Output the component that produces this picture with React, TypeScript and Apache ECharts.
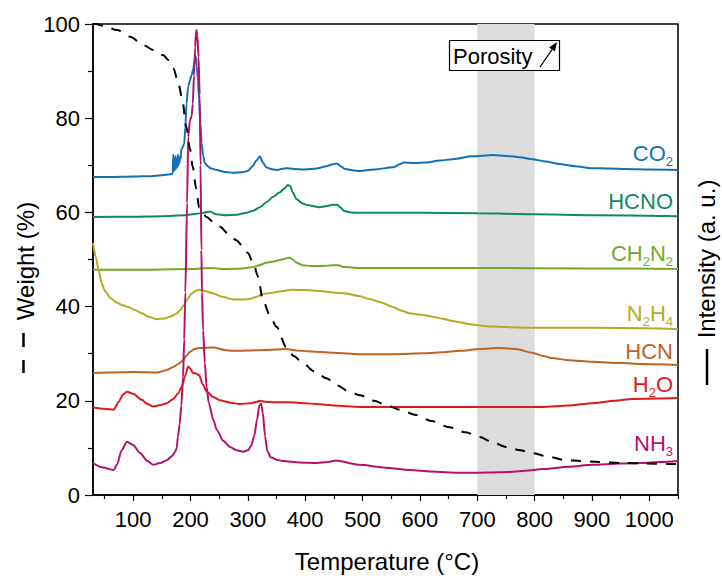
import React, { useEffect, useRef } from "react";
import * as echarts from "echarts";

// Temperature (°C) ticks
const xMajorTicks = [100, 200, 300, 400, 500, 600, 700, 800, 900, 1000];
const xMinorTicks = [50, 150, 250, 350, 450, 550, 650, 750, 850, 950, 1050];
const porosityBand = [700, 800];

// TGA weight (%)
const weight: [number, number][] = [
  [30, 100], [34, 100], [50, 99.6], [72, 98.7], [95, 97.3], [118, 95.5], [135, 94.5], [152, 93.4],
  [162, 92.3], [170, 90.6], [178, 88], [185, 84.5], [193, 78], [199, 73.5], [204, 69.6], [210, 65],
  [215, 61], [222, 59.8], [228, 59], [240, 58], [251, 57], [265, 55.6], [280, 54.1], [290, 53],
  [300, 51.4], [310, 49], [318, 46.3], [326, 41.4], [338, 38.3], [350, 35.7], [367, 31.4],
  [380, 29.5], [396, 28], [415, 26.3], [437, 24.8], [455, 23.3], [477, 21.9], [495, 21.2],
  [520, 20], [541, 19.1], [565, 18.1], [593, 17], [620, 15.7], [651, 14.4], [680, 13.3],
  [704, 12.3], [725, 11.3], [750, 10.2], [775, 9.5], [796, 8.9], [825, 8.1], [854, 7.4],
  [880, 7.2], [912, 7.0], [950, 6.8], [990, 6.7], [1034, 6.6], [1050, 6.6],
];

// MS intensities (a. u., offset traces)
const co2: [number, number][] = [
  [30, 67.5], [60, 67.5], [100, 67.6], [130, 67.7], [150, 67.9], [165, 68.1], [169, 68.2],
  [170, 72.3], [171, 68.8], [172, 71.5], [173, 69], [174, 72], [175, 69.3], [176, 71], [177, 69.6],
  [178, 72.3], [179, 70], [180, 71.4], [181, 70.6], [182, 72], [183, 71.4], [184, 73.3],
  [186, 73.8], [189, 74.5], [191, 78], [193, 83], [196, 86.8], [199, 88], [202, 89.2], [205, 90.5],
  [207, 92], [209, 93.2], [211, 91], [213, 88], [215, 84], [217, 79], [219.5, 74.7], [222, 72],
  [225, 70.5], [230, 69.8], [235, 69.4], [246, 69], [260, 68.6], [274, 68.4], [290, 68.5],
  [300, 68.8], [308, 69.8], [315, 71], [321, 71.9], [326, 70.6], [332, 69.6], [340, 69.2],
  [350, 69], [367, 69.4], [380, 69.2], [400, 69.1], [420, 69.3], [437, 69.8], [448, 70.2],
  [455, 70.4], [462, 69.8], [470, 69.2], [485, 68.9], [495, 68.8], [520, 69.1], [553, 69.6],
  [565, 70.2], [572, 70.6], [590, 70.5], [611, 70.6], [635, 71], [657, 71.3], [692, 71.9],
  [727, 72.2], [750, 72], [775, 71.7], [796, 71.3], [820, 70.8], [843, 70.3], [870, 69.8],
  [900, 69.4], [930, 69.3], [959, 69.2], [1000, 69.1], [1050, 69],
];
const hcno: [number, number][] = [
  [30, 59], [100, 59.1], [150, 59.2], [190, 59.4], [210, 59.7], [225, 60], [234, 60.2], [245, 59.6],
  [260, 59.4], [280, 59.5], [298, 59.9], [310, 60.4], [321, 61.1], [333, 62.2], [344, 63.3],
  [355, 64.2], [363, 65], [370, 65.8], [374, 65.6], [378, 64.3], [385, 62.8], [395, 61.9],
  [405, 61.5], [425, 61.1], [440, 61.4], [448, 61.6], [456, 61.6], [462, 61], [468, 60.3],
  [480, 60], [495, 59.9], [600, 59.9], [700, 59.8], [800, 59.6], [900, 59.4], [1050, 59.2],
];
const ch2n2: [number, number][] = [
  [30, 47.8], [100, 47.8], [200, 48], [234, 48.2], [260, 48], [290, 48.1], [309, 48.4], [320, 48.8],
  [332, 49.3], [345, 49.6], [356, 49.9], [366, 50.2], [372, 50.4], [378, 50], [385, 49.3],
  [395, 48.8], [410, 48.6], [430, 48.6], [448, 48.8], [458, 48.8], [466, 48.4], [495, 48.2],
  [700, 48.2], [900, 48.1], [1050, 48],
];
const n2h4: [number, number][] = [
  [30, 53.5], [35, 50.5], [40, 47.5], [45, 45], [51, 43.3], [60, 41.8], [72, 40.8], [82, 40.3],
  [92, 39.9], [103, 39.3], [115, 38.6], [128, 37.8], [142, 37.3], [155, 37.5], [165, 37.9],
  [175, 38.5], [182, 39.2], [188, 40.3], [195, 41.6], [202, 42.8], [210, 43.4], [216, 43.6],
  [225, 43.3], [240, 42.8], [255, 42.1], [274, 41.5], [290, 41.5], [303, 41.6], [315, 42.1],
  [326, 42.7], [340, 42.9], [355, 43.2], [378, 43.6], [400, 43.5], [425, 43.3], [448, 43],
  [470, 42.8], [495, 42.2], [512, 41.6], [530, 41], [553, 39.9], [568, 39.1], [582, 38.6],
  [600, 38.3], [611, 38.1], [625, 37.8], [640, 37.4], [655, 37], [669, 36.7], [685, 36.3],
  [698, 36.1], [720, 35.8], [738, 35.7], [760, 35.6], [785, 35.5], [850, 35.5], [900, 35.5],
  [1000, 35.4], [1050, 35.2],
];
const hcn: [number, number][] = [
  [30, 25.9], [60, 26], [100, 26.1], [142, 26], [158, 26.5], [170, 27.2], [180, 27.9], [187, 28.6],
  [193, 29.6], [199, 30.4], [207, 31], [216, 31.2], [240, 31.3], [260, 30.8], [274, 30.6],
  [300, 30.7], [332, 30.8], [350, 30.9], [367, 31], [385, 30.7], [402, 30.5], [450, 30.2],
  [495, 29.9], [553, 29.9], [611, 30.1], [640, 30.3], [669, 30.6], [704, 31], [738, 31.2],
  [767, 31], [796, 30.2], [815, 29.5], [830, 29.1], [860, 28.6], [900, 28.3], [950, 28],
  [987, 27.8], [1050, 27.6],
];
const h2o: [number, number][] = [
  [30, 18.6], [50, 18.3], [66, 18.1], [75, 19.8], [82, 21.3], [89, 21.9], [100, 21.5], [115, 20.2],
  [125, 19.3], [135, 18.8], [148, 19.1], [159, 19.5], [170, 20.4], [178, 21.5], [185, 23],
  [191, 25.5], [196, 27.3], [200, 26.8], [204, 25.9], [210, 25.8], [215, 25.4], [222, 23.4],
  [228, 22], [240, 20.8], [251, 20.1], [270, 19.6], [286, 19.3], [305, 19.5], [316, 19.8],
  [321, 20], [330, 19.8], [344, 19.7], [372, 19.7], [400, 19.5], [420, 19.3], [450, 19],
  [495, 18.7], [600, 18.7], [700, 18.7], [813, 18.7], [860, 19], [900, 19.5], [940, 20],
  [970, 20.4], [1010, 20.5], [1050, 20.6],
];
const nh3: [number, number][] = [
  [30, 6.8], [45, 5.9], [66, 5.3], [72, 6.5], [80, 9.5], [89, 11.3], [100, 10.6], [112, 8.9],
  [125, 7.2], [135, 6.4], [147, 6.8], [159, 7.4], [168, 8.3], [173, 9.1], [176, 10], [178, 12.3],
  [181, 15], [184, 19], [187, 25], [189, 33], [191, 43], [194, 62], [196, 76], [199, 79.5],
  [202, 80.5], [204, 83], [206, 89], [208, 95], [210, 98.7], [212, 97.5], [214, 93], [216, 85],
  [217.5, 70], [219, 52], [220, 43], [222, 35], [225, 28], [228, 23], [232, 19.5], [240, 15.8],
  [246, 13.8], [257, 11.5], [269, 10.2], [280, 9.5], [292, 9.2], [300, 9.5], [306, 10.5],
  [311, 12.5], [316, 16], [320, 19], [323, 19.4], [326, 17.5], [330, 12.5], [334, 9.3],
  [340, 8], [350, 7.5], [361, 7.2], [390, 6.9], [420, 6.8], [440, 7], [454, 7.3], [465, 7.1],
  [480, 6.7], [495, 6.4], [540, 5.8], [582, 5.3], [620, 5], [669, 4.7], [720, 4.8], [755, 4.9],
  [790, 5.2], [813, 5.5], [860, 6], [900, 6.4], [950, 6.7], [987, 6.8], [1020, 7.0], [1050, 7.2],
];

const FONT = "'Liberation Sans', Arial, Helvetica, sans-serif";

const traces = [
  { name: "CO2", data: co2, color: "#1270b6", label: "{m|CO}{s|2}", y: 153 },
  { name: "HCNO", data: hcno, color: "#0d8a5e", label: "{m|HCNO}", y: 201 },
  { name: "CH2N2", data: ch2n2, color: "#6fab27", label: "{m|CH}{s|2}{m|N}{s|2}", y: 253 },
  { name: "N2H4", data: n2h4, color: "#b3ac23", label: "{m|N}{s|2}{m|H}{s|4}", y: 313 },
  { name: "HCN", data: hcn, color: "#c0641f", label: "{m|HCN}", y: 351 },
  { name: "H2O", data: h2o, color: "#e0191c", label: "{m|H}{s|2}{m|O}", y: 384 },
  { name: "NH3", data: nh3, color: "#b3126a", label: "{m|NH}{s|3}", y: 443 },
];

export default function App() {
  const ref = useRef<HTMLDivElement>(null);
  useEffect(() => {
    if (!ref.current) return;
    const chart = echarts.init(ref.current, null, { renderer: "svg" });

    const arrowTip = [557, 42];
    const dir = [0.55, -0.835];
    const hl = 9, hw = 3.5;
    const base = [arrowTip[0] - hl * dir[0], arrowTip[1] - hl * dir[1]];
    const perp = [-dir[1], dir[0]];

    const seriesList: any[] = [
      {
        type: "line",
        name: "band",
        data: [],
        z: 1,
        silent: true,
        markArea: {
          silent: true,
          itemStyle: { color: "#dcdcdc" },
          data: [[{ xAxis: porosityBand[0] }, { xAxis: porosityBand[1] }]],
        },
      },
      ...traces.map((t) => ({
        type: "line",
        name: t.name,
        data: t.data,
        showSymbol: false,
        smooth: 0.25,
        smoothMonotone: "x",
        lineStyle: { color: t.color, width: 2 },
        itemStyle: { color: t.color },
        z: 3,
      })),
      {
        type: "line",
        name: "Weight",
        data: weight,
        showSymbol: false,
        smooth: 0.3,
        smoothMonotone: "x",
        lineStyle: { color: "#000", width: 2, type: [10, 9] },
        itemStyle: { color: "#000" },
        z: 4,
      },
    ];

    const labelGraphics = traces.map((t) => ({
      type: "text",
      x: 673,
      y: t.y,
      z: 10,
      style: {
        text: t.label,
        align: "right",
        verticalAlign: "middle",
        fill: t.color,
        rich: {
          m: { fontSize: 22, fontFamily: FONT, fill: t.color, lineHeight: 30, verticalAlign: "middle" },
          s: { fontSize: 13, fontFamily: FONT, fill: t.color, lineHeight: 13, verticalAlign: "bottom" },
        },
      },
    }));

    chart.setOption({
      animation: false,
      backgroundColor: "#fff",
      grid: {
        left: 93,
        top: 24,
        width: 585,
        height: 471,
        show: true,
        borderColor: "#000",
        borderWidth: 1.5,
        backgroundColor: "transparent",
        containLabel: false,
      },
      xAxis: [
        {
          type: "value",
          min: 30,
          max: 1050,
          position: "bottom",
          axisLine: { show: true, lineStyle: { color: "#000", width: 1.5 } },
          axisTick: { show: true, customValues: xMajorTicks, length: 6, lineStyle: { color: "#000", width: 1.2 } },
          axisLabel: {
            customValues: xMajorTicks,
            fontSize: 22,
            color: "#000",
            fontFamily: FONT,
            margin: 13,
            formatter: (v: number) => String(v),
          },
          splitLine: { show: false },
        },
        {
          type: "value",
          min: 30,
          max: 1050,
          position: "bottom",
          axisLine: { show: false },
          axisTick: { show: true, customValues: xMinorTicks, length: 4, lineStyle: { color: "#000", width: 1.2 } },
          axisLabel: { show: false },
          splitLine: { show: false },
        },
      ],
      yAxis: [
        {
          type: "value",
          min: 0,
          max: 100,
          interval: 20,
          position: "left",
          axisLine: { show: true, lineStyle: { color: "#000", width: 1.5 } },
          axisTick: { show: true, length: 8, lineStyle: { color: "#000", width: 1.2 } },
          minorTick: { show: true, splitNumber: 2, length: 5, lineStyle: { color: "#000", width: 1.2 } },
          axisLabel: { fontSize: 22, color: "#000", fontFamily: FONT, margin: 13, formatter: (v: number) => String(v) },
          splitLine: { show: false },
          minorSplitLine: { show: false },
        },
      ],
      series: seriesList,
      graphic: [
        // Axis titles
        {
          type: "text",
          x: 387,
          y: 561,
          style: { text: "Temperature (°C)", fontSize: 24, fontFamily: FONT, fill: "#000", align: "center", verticalAlign: "middle" },
        },
        {
          type: "text",
          x: 25,
          y: 261,
          rotation: Math.PI / 2,
          style: { text: "Weight (%)", fontSize: 24, fontFamily: FONT, fill: "#000", align: "center", verticalAlign: "middle" },
        },
        { type: "line", shape: { x1: 23.5, y1: 333, x2: 23.5, y2: 347 }, style: { stroke: "#000", lineWidth: 2.5 } },
        { type: "line", shape: { x1: 23.5, y1: 360, x2: 23.5, y2: 373 }, style: { stroke: "#000", lineWidth: 2.5 } },
        {
          type: "text",
          x: 706,
          y: 259,
          rotation: Math.PI / 2,
          style: { text: "Intensity (a. u.)", fontSize: 24, fontFamily: FONT, fill: "#000", align: "center", verticalAlign: "middle" },
        },
        { type: "line", shape: { x1: 707, y1: 349, x2: 707, y2: 385 }, style: { stroke: "#000", lineWidth: 2.5 } },
        // Porosity annotation
        {
          type: "rect",
          z: 10,
          shape: { x: 449.5, y: 40.5, width: 110, height: 30 },
          style: { fill: "#fff", stroke: "#000", lineWidth: 1.2 },
        },
        {
          type: "text",
          z: 11,
          x: 453,
          y: 56,
          style: { text: "Porosity", fontSize: 22, fontFamily: FONT, fill: "#000", align: "left", verticalAlign: "middle" },
        },
        {
          type: "line",
          z: 11,
          shape: { x1: 540, y1: 67, x2: base[0], y2: base[1] },
          style: { stroke: "#000", lineWidth: 1.3 },
        },
        {
          type: "polygon",
          z: 11,
          shape: {
            points: [
              arrowTip,
              [base[0] + perp[0] * hw, base[1] + perp[1] * hw],
              [base[0] - perp[0] * hw, base[1] - perp[1] * hw],
            ],
          },
          style: { fill: "#000" },
        },
        ...labelGraphics,
      ],
    });
    return () => chart.dispose();
  }, []);
  return (
    <div
      ref={ref}
      style={{ position: "fixed", left: 0, top: 0, width: 722, height: 576, background: "#fff" }}
    />
  );
}
